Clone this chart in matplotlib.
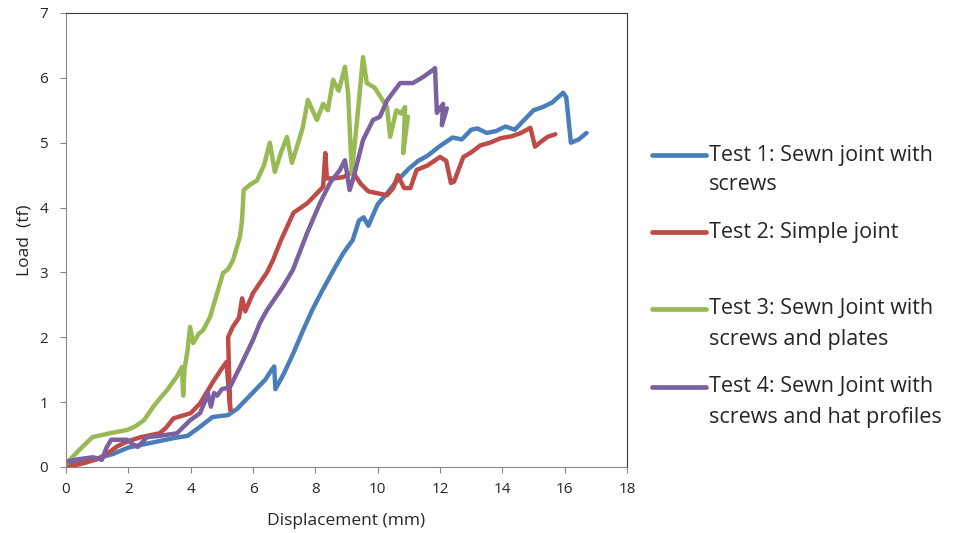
import matplotlib
matplotlib.use("Agg")
import matplotlib.pyplot as plt
from matplotlib.lines import Line2D

plt.rcParams['font.family'] = ['Open Sans', 'DejaVu Sans']

# Test 1: sewn joint with screws
t1_x = [0, 0.5, 1.0, 1.5, 2.0, 2.5, 3.0, 3.5, 3.9, 4.3, 4.7, 5.2, 5.5, 5.8, 6.1, 6.4, 6.6,
        6.68, 6.72, 7.0, 7.3, 7.6, 7.9, 8.2, 8.6, 8.9, 9.2, 9.4, 9.55, 9.7, 10.0, 10.3,
        10.6, 11.0, 11.3, 11.6, 12.0, 12.4, 12.7, 13.0, 13.2, 13.5, 13.8, 14.1, 14.4,
        14.7, 15.0, 15.3, 15.6, 15.95, 16.05, 16.2, 16.45, 16.7]
t1_y = [0.05, 0.08, 0.13, 0.2, 0.3, 0.35, 0.4, 0.45, 0.48, 0.62, 0.77, 0.8, 0.9, 1.05,
        1.2, 1.35, 1.5, 1.55, 1.2, 1.45, 1.76, 2.1, 2.42, 2.7, 3.05, 3.3, 3.5, 3.8, 3.85,
        3.72, 4.05, 4.22, 4.4, 4.6, 4.72, 4.8, 4.95, 5.08, 5.05, 5.2, 5.22, 5.15, 5.18,
        5.25, 5.2, 5.35, 5.5, 5.55, 5.62, 5.77, 5.7, 5.0, 5.05, 5.15]

# Test 2: simple joint
t2_x = [0, 0.5, 1.0, 1.3, 1.65, 2.0, 2.4, 3.0, 3.2, 3.45, 4.0, 4.3, 4.7, 5.0, 5.15, 5.27,
        5.2, 5.35, 5.55, 5.65, 5.75, 6.0, 6.45, 6.65, 6.9, 7.3, 7.75, 8.05, 8.25, 8.32,
        8.37, 8.6, 8.9, 9.2, 9.45, 9.7, 10.0, 10.3, 10.5, 10.65, 10.85, 11.05, 11.25,
        11.6, 12.0, 12.2, 12.35, 12.45, 12.75, 13.0, 13.3, 13.6, 13.95, 14.3, 14.6, 14.9,
        15.05, 15.2, 15.45, 15.7]
t2_y = [0, 0.05, 0.12, 0.2, 0.32, 0.4, 0.46, 0.52, 0.6, 0.75, 0.83, 0.98, 1.3, 1.52,
        1.62, 0.88, 2.0, 2.16, 2.3, 2.6, 2.4, 2.68, 3.0, 3.2, 3.5, 3.92, 4.07, 4.22, 4.32,
        4.84, 4.45, 4.45, 4.47, 4.55, 4.37, 4.25, 4.22, 4.19, 4.3, 4.5, 4.3, 4.3, 4.58,
        4.65, 4.78, 4.72, 4.38, 4.4, 4.78, 4.85, 4.96, 5.0, 5.07, 5.1, 5.15, 5.23, 4.94,
        5.0, 5.09, 5.13]

# Test 3: sewn joint with screws and plates
t3_x = [0, 0.4, 0.85, 1.4, 1.95, 2.2, 2.5, 2.8, 3.0, 3.25, 3.55, 3.72, 3.76, 3.8, 3.9,
        3.98, 4.08, 4.25, 4.4, 4.62, 4.8, 5.04, 5.2, 5.36, 5.58, 5.65, 5.7, 5.9, 6.13,
        6.35, 6.54, 6.7, 6.9, 7.09, 7.25, 7.45, 7.6, 7.76, 8.05, 8.25, 8.4, 8.57, 8.75,
        8.95, 9.05, 9.17, 9.35, 9.53, 9.65, 9.9, 10.1, 10.3, 10.4, 10.6, 10.75, 10.88,
        10.82, 10.97]
t3_y = [0.05, 0.25, 0.46, 0.52, 0.57, 0.62, 0.72, 0.93, 1.05, 1.19, 1.39, 1.54, 1.1,
        1.5, 1.8, 2.16, 1.91, 2.05, 2.11, 2.31, 2.6, 2.99, 3.05, 3.19, 3.55, 3.81, 4.27,
        4.35, 4.42, 4.65, 5.0, 4.55, 4.85, 5.09, 4.69, 5.0, 5.24, 5.66, 5.35, 5.6, 5.5,
        5.97, 5.8, 6.17, 5.77, 4.53, 5.4, 6.32, 5.92, 5.85, 5.7, 5.55, 5.09, 5.5, 5.45,
        5.55, 4.84, 5.4]

# Test 4: sewn joint with screws and hat profiles
t4_x = [0, 0.4, 0.87, 1.15, 1.3, 1.45, 1.96, 2.15, 2.3, 2.6, 3.0, 3.56, 3.98, 4.3, 4.45,
        4.55, 4.65, 4.75, 4.85, 5.0, 5.26, 5.58, 6.0, 6.22, 6.45, 6.96, 7.28, 7.73, 8.15,
        8.47, 8.79, 8.95, 9.1, 9.2, 9.35, 9.53, 9.85, 10.07, 10.3, 10.72, 11.13, 11.45,
        11.77, 11.84, 11.9, 12.1, 12.06, 12.22]
t4_y = [0.08, 0.12, 0.15, 0.11, 0.3, 0.42, 0.42, 0.35, 0.31, 0.46, 0.48, 0.52, 0.72,
        0.83, 1.0, 1.14, 0.93, 1.14, 1.1, 1.2, 1.23, 1.54, 1.96, 2.22, 2.42, 2.78, 3.04,
        3.6, 4.07, 4.38, 4.58, 4.73, 4.27, 4.42, 4.7, 5.04, 5.35, 5.4, 5.65, 5.92, 5.92,
        6.01, 6.12, 6.15, 5.46, 5.6, 5.27, 5.53]

series = [
    (t1_x, t1_y, '#4A7EBB', ["Test 1: Sewn joint with", "screws"]),
    (t2_x, t2_y, '#BE4B48', ["Test 2: Simple joint"]),
    (t3_x, t3_y, '#98B954', ["Test 3: Sewn Joint with", "screws and plates"]),
    (t4_x, t4_y, '#7D60A0', ["Test 4: Sewn Joint with", "screws and hat profiles"]),
]

fig = plt.figure(figsize=(9.55, 5.33), dpi=100)
ax = fig.add_axes([66 / 955, 1 - 467 / 533, (627 - 66) / 955, (467 - 13) / 533])

for x, y, c, lab in series:
    ax.plot(x, y, '-', color=c, linewidth=3.2, solid_joinstyle='round', solid_capstyle='round')

ax.set_xlim(0, 18)
ax.set_ylim(0, 7)
ax.set_xticks(range(0, 19, 2))
ax.set_yticks(range(0, 8))

for side in ['left', 'bottom']:
    ax.spines[side].set_color('#868686')
for side in ['top', 'right']:
    ax.spines[side].set_color('#3a3a3a')
ax.tick_params(direction='out', length=4, color='#868686', labelsize=11, labelcolor='#262626')
ax.tick_params(axis='x', pad=7)
ax.tick_params(axis='y', pad=9)

ax.set_xlabel("Displacement (mm)", fontsize=12.5, color='#262626', labelpad=11)
ax.set_ylabel("Load  (tf)", fontsize=12.5, color='#262626', labelpad=5)

# legend, drawn by hand so the handle sits on the first text line
legend_y = [155, 232, 309, 387]
for (x, y, c, lab), py in zip(series, legend_y):
    fy = 1 - py / 533
    fig.add_artist(Line2D([652 / 955, 706 / 955], [fy, fy], color=c, linewidth=3.4,
                          solid_capstyle='round'))
    for i, line in enumerate(lab):
        fig.text(709 / 955, 1 - (py + i * 30) / 533, line, fontsize=15.5, color='#262626',
                 va='center', ha='left')

fig.savefig("out.png", dpi=100)
